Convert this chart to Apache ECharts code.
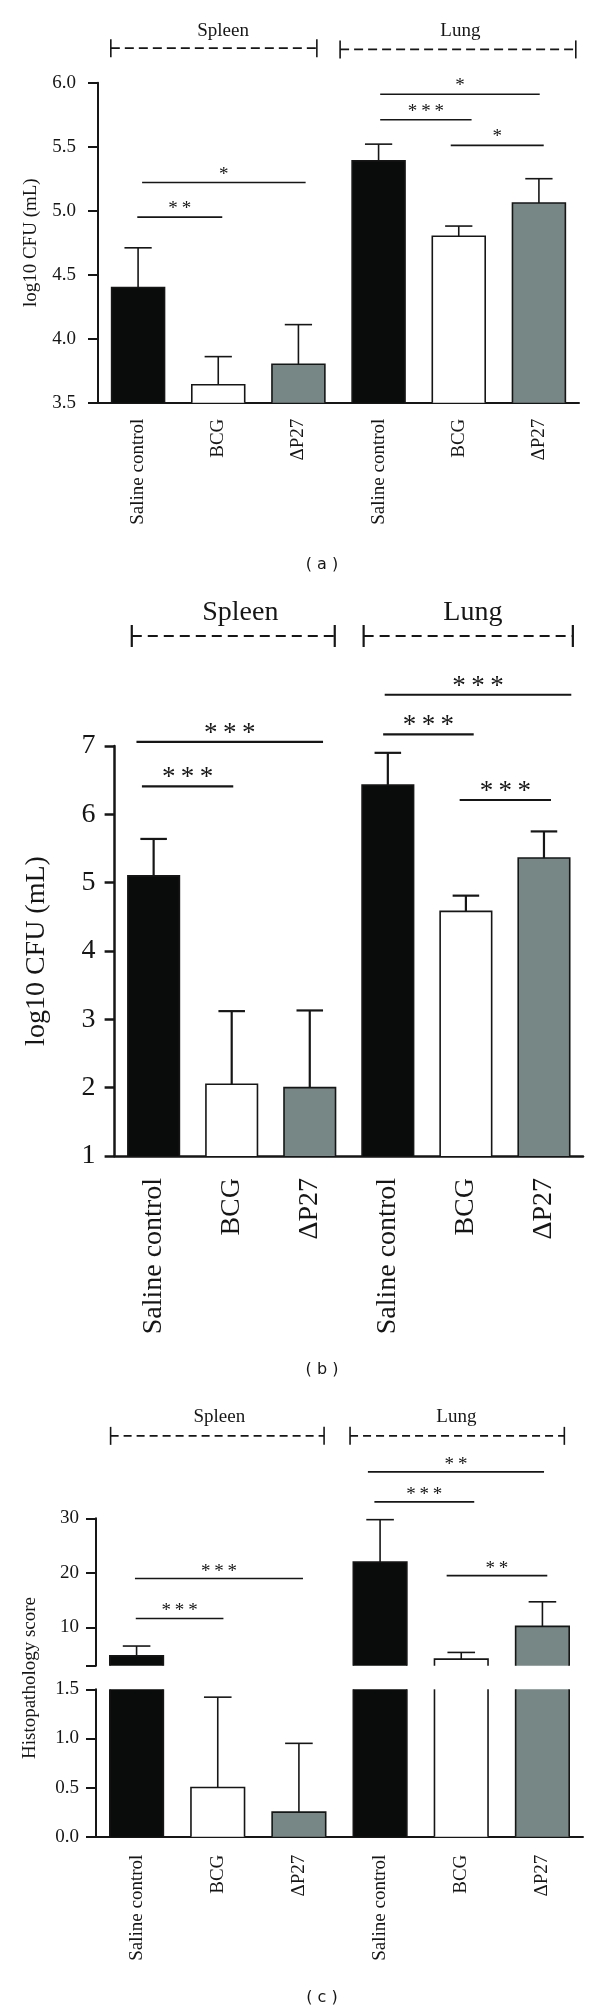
<!DOCTYPE html>
<html><head><meta charset="utf-8">
<script src="https://cdn.jsdelivr.net/npm/echarts@6/dist/echarts.min.js"></script>
<style>html,body{margin:0;padding:0;background:#fff}#c{width:600px;height:2014px}</style>
</head><body><div id="c"></div><script>
// ---------------- data ----------------
const categories = ['Saline control', 'BCG', 'ΔP27', 'Saline control', 'BCG', 'ΔP27'];
const groupNames = ['Spleen', 'Lung'];
const barColors = ['#0a0c0b', '#ffffff', '#778785', '#0a0c0b', '#ffffff', '#778785'];
const captions = ['( a )', '( b )', '( c )'];
const yNames = ['log10 CFU (mL)', 'log10 CFU (mL)', 'Histopathology score'];

const meanA = [4.40, 3.64, 3.80, 5.39, 4.80, 5.06];
const errTopA = [4.71, 3.86, 4.11, 5.52, 4.88, 5.25];
const meanB = [5.10, 2.05, 2.00, 6.43, 4.58, 5.36];
const errTopB = [5.64, 3.12, 3.13, 6.90, 4.81, 5.75];
const meanC = [4.83, 0.50, 0.25, 22.0, 4.20, 10.2];
const errTopC = [6.60, 1.42, 0.95, 29.75, 5.43, 14.7];

// axis ranges
const rangeA = [3.5, 6.0, 0.5];
const rangeB = [1, 7, 1];
const rangeCUpper = [3, 30];
const ticksCUpper = [3, 10, 20, 30];
const labelsCUpper = [10, 20, 30];
const rangeCLower = [0, 1.5, 0.5];

// significance brackets: [from, to, y, label]  (x in category units)
const sigA = [[-0.01, 1.05, 4.95, '**'], [0.05, 2.09, 5.22, '*'], [3.02, 5.01, 5.91, '*'], [3.02, 4.16, 5.71, '***'], [3.90, 5.06, 5.51, '*']];
const sigB = [[-0.22, 2.17, 7.06, '***'], [-0.15, 1.02, 6.41, '***'], [2.96, 5.35, 7.75, '***'], [2.94, 4.10, 7.17, '***'], [3.92, 5.09, 6.21, '***']];
const sigC = [[-0.02, 2.05, 18.96, '***'], [-0.01, 1.07, 11.65, '***'], [2.85, 5.02, 38.5, '**'], [2.93, 4.16, 33.0, '***'], [3.82, 5.06, 19.5, '**']];

// group brackets: [from, to, lineY, titleX, titleY]
const groupA = [[-0.34, 2.23, 6.27, 1.06, 6.40], [2.52, 5.46, 6.26, 4.02, 6.40]];
const groupB = [[-0.28, 2.32, 8.61, 1.11, 8.95], [2.69, 5.37, 8.61, 4.09, 8.95]];
const groupC = [[-0.32, 2.31, 45.1, 1.02, 48.6], [2.63, 5.27, 45.1, 3.94, 48.6]];

// ---------------- helpers ----------------
const SERIF = '"Liberation Serif", "Times New Roman", serif';
const INK = '#161616';
function star(s) { return s.split('').join('\u2009'); }

function barSeries(g, means, yMin, yMax, openBottom) {
  return {
    type: 'custom', xAxisIndex: g, yAxisIndex: g, z: 2,
    data: means.map((v, i) => [i, v]),
    renderItem(params, api) {
      const i = api.value(0), v = api.value(1);
      if (v <= yMin) return null;
      const top = Math.min(v, yMax);
      const pt = api.coord([i, top]);
      const pb = api.coord([i, yMin]);
      const w = api.size([1, 0])[0] * 0.66;
      const x0 = pt[0] - w / 2, x1 = pt[0] + w / 2;
      const ch = [{ type: 'rect', shape: { x: x0, y: pt[1], width: w, height: pb[1] - pt[1] }, style: { fill: barColors[i] } }];
      const ls = { stroke: INK, lineWidth: 1.6, fill: null };
      if (v > yMax) {
        ch.push({ type: 'line', shape: { x1: x0, y1: pb[1], x2: x0, y2: pt[1] }, style: ls });
        ch.push({ type: 'line', shape: { x1: x1, y1: pb[1], x2: x1, y2: pt[1] }, style: ls });
      } else {
        ch.push({ type: 'polyline', shape: { points: [[x0, pb[1]], [x0, pt[1]], [x1, pt[1]], [x1, pb[1]]] }, style: ls });
      }
      return { type: 'group', children: ch };
    }
  };
}

function errSeries(g, means, tops, yMin, yMax, lw) {
  return {
    type: 'custom', xAxisIndex: g, yAxisIndex: g, z: 3,
    data: means.map((v, i) => [i, v, tops[i]]),
    renderItem(params, api) {
      const i = api.value(0), v = api.value(1), e = api.value(2);
      if (v < yMin || v > yMax) return null;
      const pb = api.coord([i, v]);
      const pt = api.coord([i, Math.min(e, yMax)]);
      const cw = api.size([1, 0])[0] * 0.34;
      const ls = { stroke: INK, lineWidth: lw };
      return { type: 'group', children: [
        { type: 'line', shape: { x1: pb[0], y1: pb[1], x2: pt[0], y2: pt[1] }, style: ls },
        { type: 'line', shape: { x1: pt[0] - cw / 2, y1: pt[1], x2: pt[0] + cw / 2, y2: pt[1] }, style: ls }
      ] };
    }
  };
}

function sigSeries(g, sig, fontSize, offset, lw) {
  return {
    type: 'custom', xAxisIndex: 4 + g, yAxisIndex: g, z: 4, clip: false,
    data: sig.map(s => [(s[0] + s[1]) / 2, s[2]]),
    renderItem(params, api) {
      const s = sig[params.dataIndex];
      const a = api.coord([s[0], s[2]]), b = api.coord([s[1], s[2]]);
      return { type: 'group', children: [
        { type: 'line', shape: { x1: a[0], y1: a[1], x2: b[0], y2: b[1] }, style: { stroke: INK, lineWidth: lw } },
        { type: 'text', style: { text: star(s[3]), x: (a[0] + b[0]) / 2, y: a[1] - offset, fill: INK,
          font: fontSize + 'px ' + SERIF, align: 'center', verticalAlign: 'middle' } }
      ] };
    }
  };
}

function groupSeries(g, grp, fontSize, tickH, lw, dash) {
  return {
    type: 'custom', xAxisIndex: 4 + g, yAxisIndex: g, z: 4, clip: false,
    data: grp.map(s => [(s[0] + s[1]) / 2, s[2]]),
    renderItem(params, api) {
      const s = grp[params.dataIndex];
      const a = api.coord([s[0], s[2]]), b = api.coord([s[1], s[2]]);
      const t = api.coord([s[3], s[4]]);
      const ls = { stroke: INK, lineWidth: lw };
      return { type: 'group', children: [
        { type: 'line', shape: { x1: a[0], y1: a[1], x2: b[0], y2: b[1] }, style: { stroke: INK, lineWidth: lw, lineDash: dash } },
        { type: 'line', shape: { x1: a[0], y1: a[1] - tickH, x2: a[0], y2: a[1] + tickH }, style: ls },
        { type: 'line', shape: { x1: b[0], y1: b[1] - tickH, x2: b[0], y2: b[1] + tickH }, style: ls },
        { type: 'text', style: { text: groupNames[params.dataIndex], x: t[0], y: t[1], fill: INK,
          font: fontSize + 'px ' + SERIF, align: 'center', verticalAlign: 'middle' } }
      ] };
    }
  };
}

function catAxis(g, fontSize, margin, tickLen, lw, show) {
  return {
    type: 'category', gridIndex: g, data: categories, show: show,
    axisLine: { onZero: false, lineStyle: { color: INK, width: lw } },
    axisTick: { alignWithLabel: true, length: tickLen, lineStyle: { color: INK, width: lw } },
    axisLabel: { rotate: 90, interval: 0, margin: margin, fontSize: fontSize, fontFamily: SERIF, color: INK },
    splitLine: { show: false }
  };
}
function hiddenX(g) {
  return { type: 'value', gridIndex: g, min: -0.5, max: 5.5, show: false };
}
function valAxis(g, opts) {
  return Object.assign({
    type: 'value', gridIndex: g,
    axisLine: { show: true, onZero: false, lineStyle: { color: INK, width: opts.lw } },
    axisTick: { show: true, length: 10, lineStyle: { color: INK, width: opts.lw } },
    splitLine: { show: false }
  }, opts.extra);
}

const grids = [
  { left: 98, top: 82.7, width: 481, height: 320 },
  { left: 114.6, top: 746, width: 468.4, height: 410 },
  { left: 96, top: 1518.3, width: 487, height: 147.4 },
  { left: 96, top: 1689.3, width: 487, height: 147.4 }
];

const yAxes = [
  valAxis(0, { lw: 2, extra: { min: rangeA[0], max: rangeA[1], interval: rangeA[2],
    axisLabel: { margin: 22, fontSize: 19, fontFamily: SERIF, color: INK, formatter: v => v.toFixed(1) },
    name: yNames[0], nameLocation: 'middle', nameGap: 57, nameTextStyle: { fontSize: 19, fontFamily: SERIF, color: INK } } }),
  valAxis(1, { lw: 2.5, extra: { min: rangeB[0], max: rangeB[1], interval: rangeB[2],
    axisLabel: { margin: 19, fontSize: 28, fontFamily: SERIF, color: INK },
    name: yNames[1], nameLocation: 'middle', nameGap: 64, nameTextStyle: { fontSize: 28, fontFamily: SERIF, color: INK } } }),
  valAxis(2, { lw: 2, extra: { min: rangeCUpper[0], max: rangeCUpper[1],
    axisTick: { show: true, length: 10, customValues: ticksCUpper, lineStyle: { color: INK, width: 2 } },
    axisLabel: { margin: 17, fontSize: 19, fontFamily: SERIF, color: INK, customValues: labelsCUpper } } }),
  valAxis(3, { lw: 2, extra: { min: rangeCLower[0], max: rangeCLower[1], interval: rangeCLower[2],
    axisLabel: { margin: 17, fontSize: 19, fontFamily: SERIF, color: INK, formatter: v => v.toFixed(1) } } })
];

const xAxes = [
  catAxis(0, 19, 16, 9, 2, true),
  catAxis(1, 28, 22, 13, 2.5, true),
  catAxis(2, 19, 18, 10, 2, false),
  catAxis(3, 19, 18, 10, 2, true),
  hiddenX(0), hiddenX(1), hiddenX(2), hiddenX(3)
];

const series = [
  barSeries(0, meanA, rangeA[0], rangeA[1], false),
  errSeries(0, meanA, errTopA, rangeA[0], rangeA[1], 1.6),
  sigSeries(0, sigA, 19, 8, 1.6),
  groupSeries(0, groupA, 19, 9, 1.6, [9, 5]),

  barSeries(1, meanB, rangeB[0], rangeB[1], false),
  errSeries(1, meanB, errTopB, rangeB[0], rangeB[1], 2.2),
  sigSeries(1, sigB, 27, 8, 2.2),
  groupSeries(1, groupB, 28, 11, 2.2, [10, 6]),

  barSeries(2, meanC, rangeCUpper[0], rangeCUpper[1], true),
  errSeries(2, meanC, errTopC, rangeCUpper[0], rangeCUpper[1], 1.6),
  sigSeries(2, sigC, 19, 7, 1.6),
  groupSeries(2, groupC, 19, 9, 1.6, [8, 5]),

  barSeries(3, meanC, rangeCLower[0], rangeCLower[1], false),
  errSeries(3, meanC, errTopC, rangeCLower[0], rangeCLower[1], 1.6)
];

const captionY = [565, 1370, 1998];
const graphic = captions.map((c, k) => ({
  type: 'text', x: 322, y: captionY[k],
  style: { text: c, font: '16px "DejaVu Sans", sans-serif', fill: INK, align: 'center', verticalAlign: 'middle' }
}));
graphic.push({
  type: 'text', x: 30, y: 1678, rotation: Math.PI / 2,
  style: { text: yNames[2], font: '19px ' + SERIF, fill: INK, align: 'center', verticalAlign: 'middle' }
});

const chart = echarts.init(document.getElementById('c'), null, { renderer: 'canvas', width: 600, height: 2014 });
chart.setOption({
  animation: false,
  backgroundColor: '#ffffff',
  grid: grids,
  xAxis: xAxes,
  yAxis: yAxes,
  series: series,
  graphic: graphic
});
</script></body></html>
